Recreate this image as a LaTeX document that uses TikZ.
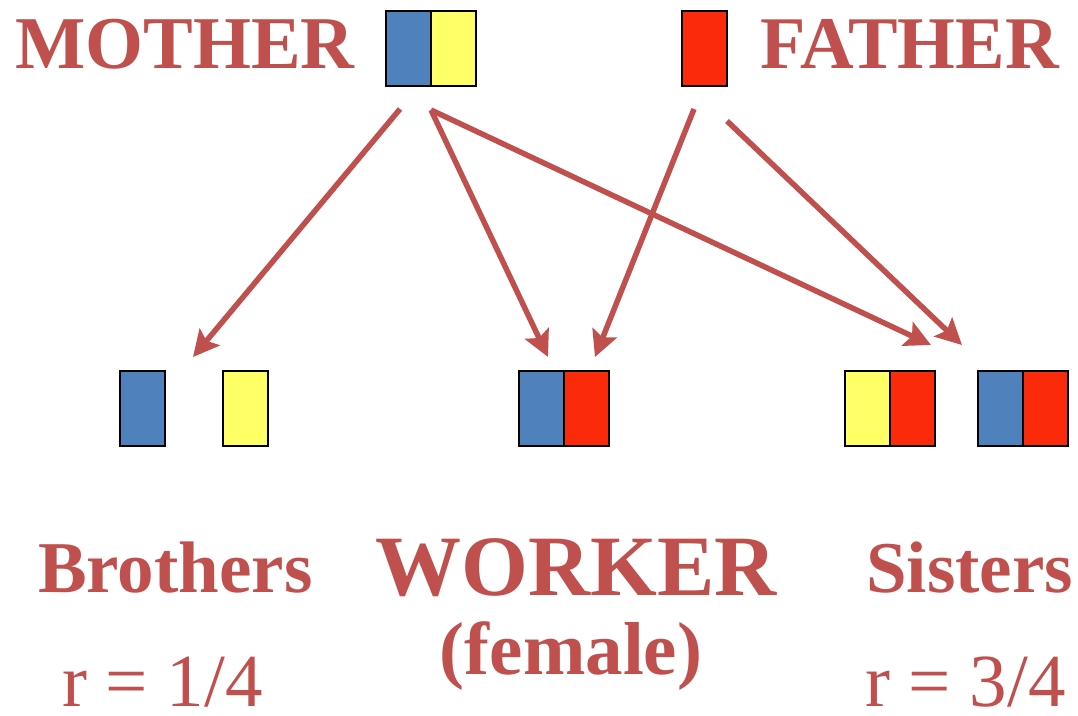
\documentclass[tikz,border=0pt]{standalone}
\usepackage{fontspec}
\setmainfont{Liberation Serif}
\usetikzlibrary{arrows.meta}
\definecolor{txtred}{HTML}{C0504D}
\definecolor{gblue}{HTML}{4F81BD}
\definecolor{gyellow}{HTML}{FFFF66}
\definecolor{gred}{HTML}{FA2A0A}
\tikzset{
  gene/.style={draw=black, line width=2pt, inner sep=0pt, minimum width=45pt, minimum height=75pt, anchor=north west},
  lbl/.style={text=txtred, inner sep=0pt, anchor=base west, font=\bfseries\fontsize{73}{80}\selectfont},
  rlbl/.style={text=txtred, inner sep=0pt, anchor=base west, text depth=0pt, font=\fontsize{75}{80}\selectfont},
  inh/.style={draw=txtred, line width=5.5pt, -{Stealth[length=26pt,width=26pt,inset=5pt]}}
}
\begin{document}
\begin{tikzpicture}[x=1pt,y=-1pt]
\useasboundingbox (0,0) rectangle (1078,715);
% labels
\node[lbl, font=\bfseries\fontsize{74.5}{80}\selectfont] (mother) at (15,68) {MOTHER};
\node[lbl, font=\bfseries\fontsize{74.3}{80}\selectfont] (father) at (760,68) {FATHER};
\node[lbl] (brothers) at (38,592) {Brothers};
\node[lbl, font=\bfseries\fontsize{86}{90}\selectfont] (worker) at (375,595) {WORKER};
\node[lbl, anchor=base, font=\bfseries\fontsize{75}{80}\selectfont] (female) at (571,674) {(female)};
\node[lbl] (sisters) at (866,592) {Sisters};
\node[rlbl] (rbro) at (62,706) {r = 1/4};
\node[rlbl] (rsis) at (865,706) {r = 3/4};
% mother genes
\node[gene, fill=gblue] (m1) at (385,10) {};
\node[gene, fill=gyellow] (m2) at (430,10) {};
% father
\node[gene, fill=gred] (f1) at (681,10) {};
% brothers
\node[gene, fill=gblue] (b1) at (119,370) {};
\node[gene, fill=gyellow] (b2) at (222,370) {};
% worker
\node[gene, fill=gblue] (w1) at (518,370) {};
\node[gene, fill=gred] (w2) at (563,370) {};
% sisters
\node[gene, fill=gyellow] (s1) at (844,370) {};
\node[gene, fill=gred] (s2) at (889,370) {};
\node[gene, fill=gblue] (s3) at (977,370) {};
\node[gene, fill=gred] (s4) at (1022,370) {};
% arrow endpoints
\coordinate (ma) at (400,109);
\coordinate (mb) at (431,110);
\coordinate (fa) at (694,109);
\coordinate (fb) at (727,121);
\coordinate (tb) at (193,357);
\coordinate (tw1) at (548,357);
\coordinate (tw2) at (595,357);
\coordinate (ts1) at (931,345);
\coordinate (ts2) at (962,345);
\draw[inh] (ma) -- (tb);
\draw[inh] (mb) -- (tw1);
\draw[inh] (mb) -- (ts1);
\draw[inh] (fa) -- (tw2);
\draw[inh] (fb) -- (ts2);
\end{tikzpicture}
\end{document}
